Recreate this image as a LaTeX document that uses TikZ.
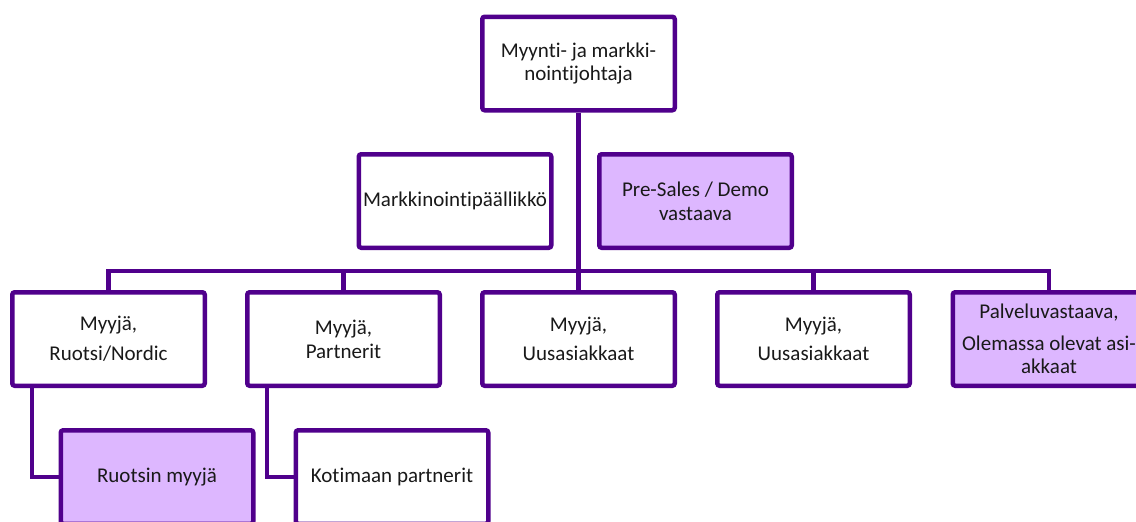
\documentclass[tikz,border=0pt]{standalone}
\usepackage{fontspec}
\setmainfont{Carlito}[Ligatures=NoCommon]
\definecolor{frame}{RGB}{80,0,140}
\definecolor{lilac}{RGB}{221,183,255}
\tikzset{
  unit/.style={draw=frame, line width=4.5pt, rounded corners=2.5pt,
    minimum width=192.5pt, minimum height=93.5pt, inner sep=0pt,
    align=center, font=\fontsize{21}{23}\selectfont, text=black!90},
  plain/.style={unit, fill=white},
  tinted/.style={unit, fill=lilac},
  link/.style={draw=frame, line width=4.5pt}
}
\begin{document}
\begin{tikzpicture}[x=1pt, y=-1pt]
\clip (0,0) rectangle (1136,522);
\fill[white] (0,0) rectangle (1136,522);

% head of the unit
\node[plain] (head) at (578.5,63.5) {Myynti- ja markki-\\nointijohtaja};

% staff positions beside the trunk
\node[plain]  (mark) at (455,201)   {Markkinointipäällikkö};
\node[tinted] (pres) at (695.5,201) {Pre-Sales / Demo\\[1pt]vastaava};

% sales row
\node[plain]  (r1) at (108.5,339) {Myyjä,\\[7pt]Ruotsi/Nordic};
\node[plain]  (r2) at (343.5,339) {Myyjä,\\[1pt]Partnerit};
\node[plain]  (r3) at (578.5,339) {Myyjä,\\[6pt]Uusasiakkaat};
\node[plain]  (r4) at (813.5,339) {Myyjä,\\[6pt]Uusasiakkaat};
\node[tinted] (r5) at (1049,339)  {Palveluvastaava,\\[9pt]Olemassa olevat asi-\\akkaat};

% second level
\node[tinted] (s1) at (157,477) {Ruotsin myyjä};
\node[plain]  (s2) at (392,477) {Kotimaan partnerit};

% connectors
\coordinate (bar) at (578.5,271);
\draw[link] (head.south) -- (bar);
\draw[link] (r1.north) |- (r5.north |- bar) -- (r5.north);
\draw[link] (r2.north) -- (r2.north |- bar);
\draw[link] (r3.north) -- (r3.north |- bar);
\draw[link] (r4.north) -- (r4.north |- bar);
\draw[link] ([xshift=22pt]r1.south west) |- (s1.west);
\draw[link] ([xshift=22pt]r2.south west) |- (s2.west);
\end{tikzpicture}
\end{document}
